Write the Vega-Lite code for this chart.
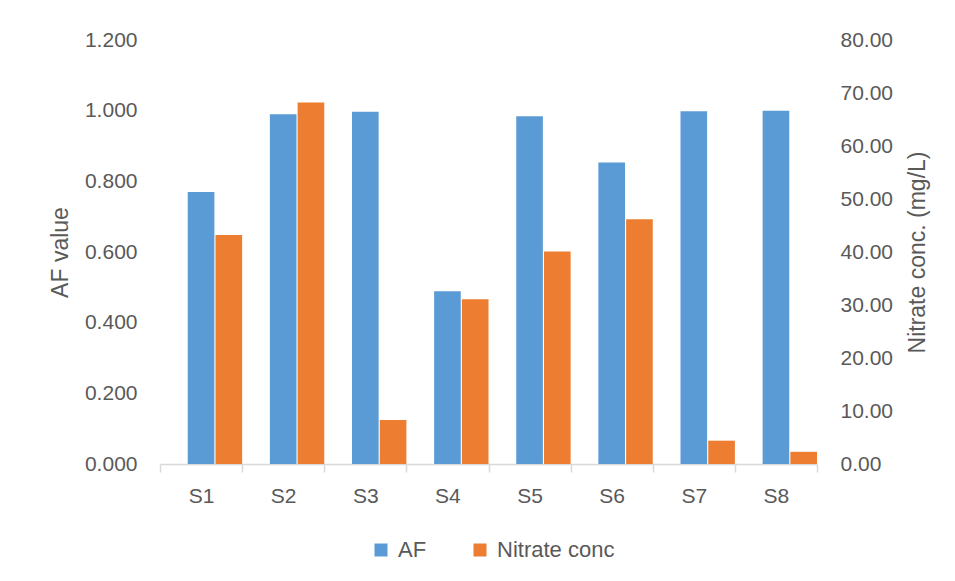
{
  "$schema": "https://vega.github.io/schema/vega-lite/v6.json",
  "width": 657,
  "height": 424,
  "autosize": {"type": "none"},
  "padding": {"left": 160, "top": 40, "right": 138, "bottom": 117},
  "background": "white",
  "config": {
    "view": {"stroke": null},
    "font": "Liberation Sans",
    "axis": {
      "labelFont": "Liberation Sans",
      "titleFont": "Liberation Sans",
      "labelFontSize": 21,
      "titleFontSize": 23,
      "labelColor": "#595959",
      "titleColor": "#595959",
      "titleFontWeight": "normal",
      "grid": false
    },
    "legend": {
      "labelFont": "Liberation Sans",
      "labelFontSize": 22,
      "labelColor": "#595959"
    }
  },
  "data": {
    "values": [
      {"sample": "S1", "af": 0.770, "nitrate": 43.2},
      {"sample": "S2", "af": 0.990, "nitrate": 68.2},
      {"sample": "S3", "af": 0.997, "nitrate": 8.3},
      {"sample": "S4", "af": 0.489, "nitrate": 31.1},
      {"sample": "S5", "af": 0.984, "nitrate": 40.1},
      {"sample": "S6", "af": 0.853, "nitrate": 46.2},
      {"sample": "S7", "af": 0.998, "nitrate": 4.4},
      {"sample": "S8", "af": 1.000, "nitrate": 2.3}
    ]
  },
  "encoding": {
    "x": {
      "field": "sample",
      "type": "nominal",
      "sort": null,
      "scale": {"paddingInner": 0, "paddingOuter": 0},
      "axis": {
        "title": null,
        "labelAngle": 0,
        "domainColor": "#D9D9D9",
        "domainWidth": 1.5,
        "tickColor": "#D9D9D9",
        "tickWidth": 1.5,
        "tickSize": 8,
        "tickBand": "extent",
        "labelPadding": 13
      }
    }
  },
  "layer": [
    {
      "mark": {"type": "bar"},
      "encoding": {
        "xOffset": {
          "datum": "AF",
          "scale": {"domain": ["gap", "AF", "Nitrate conc"], "paddingInner": 0.04, "paddingOuter": 0}
        },
        "y": {
          "field": "af",
          "type": "quantitative",
          "scale": {"domain": [0, 1.2]},
          "axis": {
            "title": "AF value",
            "orient": "left",
            "format": ".3f",
            "values": [0, 0.2, 0.4, 0.6, 0.8, 1.0, 1.2],
            "domain": false,
            "ticks": false,
            "labelPadding": 23,
            "titlePadding": 12
          }
        },
        "color": {
          "datum": "AF",
          "scale": {"domain": ["AF", "Nitrate conc"], "range": ["#5B9BD5", "#ED7D31"]},
          "legend": {
            "title": null,
            "orient": "none",
            "direction": "horizontal",
            "legendX": 210,
            "legendY": 499,
            "symbolType": "square",
            "symbolSize": 169,
            "symbolStrokeWidth": 0,
            "columnPadding": 42,
            "labelOffset": 6
          }
        }
      }
    },
    {
      "mark": {"type": "bar"},
      "encoding": {
        "xOffset": {"datum": "Nitrate conc"},
        "y": {
          "field": "nitrate",
          "type": "quantitative",
          "scale": {"domain": [0, 80]},
          "axis": {
            "title": "Nitrate conc. (mg/L)",
            "orient": "right",
            "format": ".2f",
            "values": [0, 10, 20, 30, 40, 50, 60, 70, 80],
            "domain": false,
            "ticks": false,
            "labelPadding": 23,
            "titleAngle": 270,
            "titleBaseline": "top",
            "titlePadding": 14
          }
        },
        "color": {"datum": "Nitrate conc"}
      }
    }
  ],
  "resolve": {"scale": {"y": "independent"}}
}
